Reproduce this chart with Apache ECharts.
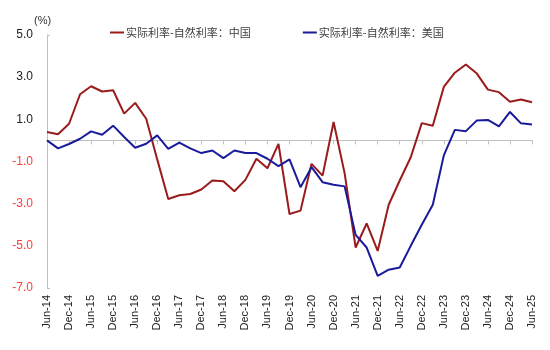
<!DOCTYPE html>
<html>
<head>
<meta charset="utf-8">
<script src="https://cdn.jsdelivr.net/npm/echarts@6/dist/echarts.min.js"></script>
<style>
html,body{margin:0;padding:0;background:#fff;}
#chart{width:550px;height:350px;}
</style>
</head>
<body>
<div id="chart"></div>
<script>
const quarters = ["Jun-14","Sep-14","Dec-14","Mar-15","Jun-15","Sep-15","Dec-15","Mar-16","Jun-16","Sep-16",
"Dec-16","Mar-17","Jun-17","Sep-17","Dec-17","Mar-18","Jun-18","Sep-18","Dec-18","Mar-19",
"Jun-19","Sep-19","Dec-19","Mar-20","Jun-20","Sep-20","Dec-20","Mar-21","Jun-21","Sep-21",
"Dec-21","Mar-22","Jun-22","Sep-22","Dec-22","Mar-23","Jun-23","Sep-23","Dec-23","Mar-24",
"Jun-24","Sep-24","Dec-24","Mar-25","Jun-25"];

const chinaGap = [0.40,0.29,0.79,2.19,2.57,2.32,2.38,1.27,1.78,1.03,
-0.90,-2.78,-2.60,-2.54,-2.33,-1.90,-1.94,-2.41,-1.87,-0.87,
-1.32,-0.16,-3.49,-3.33,-1.11,-1.67,0.87,-1.55,-5.08,-3.94,
-5.24,-3.05,-1.90,-0.80,0.82,0.70,2.54,3.21,3.60,3.17,
2.41,2.29,1.83,1.94,1.81];

const usGap = [0.00,-0.38,-0.17,0.08,0.43,0.27,0.70,0.16,-0.35,-0.16,
0.24,-0.40,-0.10,-0.38,-0.60,-0.48,-0.84,-0.48,-0.60,-0.60,
-0.87,-1.22,-0.90,-2.22,-1.27,-1.98,-2.10,-2.18,-4.48,-5.08,
-6.43,-6.13,-6.03,-5.00,-4.00,-3.05,-0.71,0.50,0.44,0.95,
0.97,0.67,1.35,0.81,0.76];

const seriesNames = ["实际利率-自然利率：中国","实际利率-自然利率：美国"];
const yTicks = {min:-7, max:5, interval:2};

const latin = '"Liberation Sans", Arial, "Noto Sans CJK SC", sans-serif';
const cjk = '"Noto Sans CJK SC", "Liberation Sans", sans-serif';

const chart = echarts.init(document.getElementById('chart'), null, {renderer:'canvas'});
chart.setOption({
  backgroundColor:'#ffffff',
  animation:false,
  title:{
    text:'(%)', left:29, top:10,
    textStyle:{fontSize:11, fontWeight:'normal', color:'#333', fontFamily:latin}
  },
  legend:{
    left:105, top:22, icon:'rect', itemWidth:14, itemHeight:2, itemGap:52,
    textStyle:{fontSize:11, color:'#404040', fontFamily:cjk, padding:[0,0,0,-3]},
    data:seriesNames
  },
  grid:{left:47, right:18, top:35, bottom:62, containLabel:false, outerBoundsMode:'none'},
  xAxis:[
    {
      type:'category', data:quarters, boundaryGap:false, position:'bottom',
      axisLine:{show:false, onZero:false},
      axisTick:{show:false},
      axisLabel:{interval:1, rotate:90, margin:7, fontSize:11, color:'#222', fontFamily:latin},
      splitLine:{show:false}
    },
    {
      type:'category', data:quarters, boundaryGap:false, position:'bottom',
      axisLine:{show:true, onZero:true, lineStyle:{color:'#C0C0C0', width:1}},
      axisTick:{show:true, interval:1, length:4, lineStyle:{color:'#C0C0C0'}},
      axisLabel:{show:false},
      splitLine:{show:false}
    }
  ],
  yAxis:{
    type:'value', min:yTicks.min, max:yTicks.max, interval:yTicks.interval,
    axisLine:{show:true, lineStyle:{color:'#C0C0C0'}},
    axisTick:{show:true, inside:true, length:3, customValues:[yTicks.min, yTicks.max], lineStyle:{color:'#C0C0C0'}},
    splitLine:{show:false},
    axisLabel:{
      margin:14, fontSize:12, fontFamily:latin,
      formatter:v=>v.toFixed(1),
      color:v=> (Number(v) < 0 ? '#FF3B3B' : '#222')
    }
  },
  series:[
    {name:seriesNames[0], type:'line', data:chinaGap, symbol:'none', xAxisIndex:0,
     lineStyle:{color:'#9A1B1B', width:2}, itemStyle:{color:'#9A1B1B'}},
    {name:seriesNames[1], type:'line', data:usGap, symbol:'none', xAxisIndex:0,
     lineStyle:{color:'#1A1A9C', width:2}, itemStyle:{color:'#1A1A9C'}}
  ]
});
</script>
</body>
</html>
